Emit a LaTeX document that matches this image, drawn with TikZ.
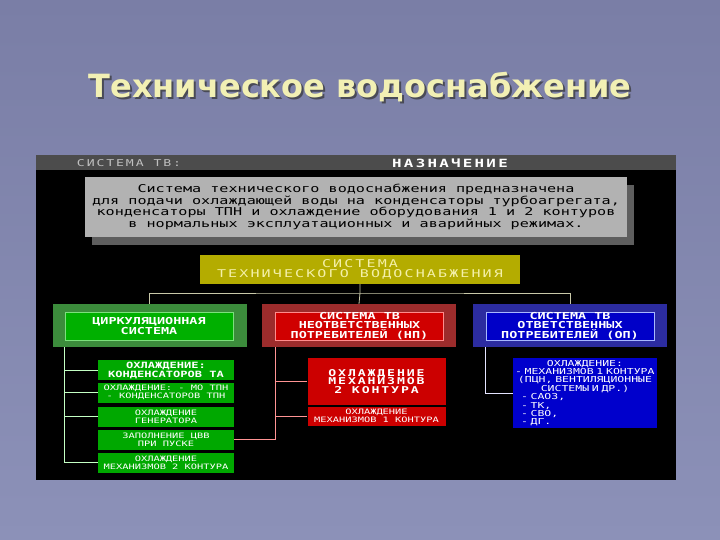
\documentclass[tikz,border=0pt]{standalone}
\usepackage{fontspec}
\newfontfamily\pix[FakeStretch=1.4]{DejaVu Sans Mono}
\newfontfamily\pixw[FakeStretch=1.4,LetterSpace=20]{DejaVu Sans Mono}
\newfontfamily\ttlfont{DejaVu Sans}
\usetikzlibrary{shadows}

\definecolor{bgtop}{HTML}{7A7EA6}
\definecolor{bgbot}{HTML}{8C91B8}
\definecolor{ttlcol}{HTML}{F2F0B4}
\definecolor{hdrfill}{HTML}{4C4C4C}
\definecolor{descfill}{HTML}{B2B2B2}
\definecolor{descshade}{HTML}{5E5E5E}
\definecolor{tvfill}{HTML}{B4AC00}
\definecolor{tvtext}{HTML}{F4F0A8}
\definecolor{treecol}{HTML}{C8C8A8}
\definecolor{gout}{HTML}{3C8C3C}
\definecolor{gin}{HTML}{00B000}
\definecolor{gedge}{HTML}{7CE07C}
\definecolor{gsubfill}{HTML}{00A800}
\definecolor{glinecol}{HTML}{C4FFC4}
\definecolor{rout}{HTML}{9C2C2C}
\definecolor{rin}{HTML}{D00000}
\definecolor{redge}{HTML}{FF8C8C}
\definecolor{rsubfill}{HTML}{CC0000}
\definecolor{rlinecol}{HTML}{FF9494}
\definecolor{bout}{HTML}{2C2CA0}
\definecolor{bin}{HTML}{0000C8}
\definecolor{bedge}{HTML}{A8B8FF}
\definecolor{bsubfill}{HTML}{0000CC}
\definecolor{blinecol}{HTML}{E4E4FF}

\tikzset{
  outerbox/.style={minimum width=194pt,minimum height=43pt,inner sep=0pt},
  innerbox/.style={draw,line width=0.8pt,minimum width=168pt,minimum height=28pt,inner sep=0pt,
    align=center,text=white,font={\pix\bfseries\fontsize{9.6}{8.5}\selectfont}},
  gsub/.style={fill=gsubfill,minimum width=136pt,minimum height=20pt,inner sep=0pt,
    align=center,text=white,font={\pix\fontsize{7.4}{8}\selectfont}},
  rsub/.style={fill=rsubfill,minimum width=138pt,inner sep=0pt,align=center,text=white},
  tree/.style={treecol,line width=0.8pt},
  gline/.style={glinecol,line width=0.8pt},
  rline/.style={rlinecol,line width=0.8pt},
  bline/.style={blinecol,line width=0.8pt}
}

\begin{document}
\begin{tikzpicture}[x=1pt,y=-1pt]
\useasboundingbox (0,0) rectangle (720,540);
\shade[top color=bgtop,bottom color=bgbot] (0,0) rectangle (720,540);

% title
\node[text=black!80,opacity=0.7,font={\ttlfont\bfseries\fontsize{32}{36}\selectfont}] (titleshadow) at (362,89) {Техническое водоснабжение};
\node[text=ttlcol,font={\ttlfont\bfseries\fontsize{32}{36}\selectfont}] (title) at (360,87) {Техническое водоснабжение};

% black panel and header
\fill[black] (36,155) rectangle (676,480);
\fill[hdrfill] (36,155) rectangle (676,170);
\node[text=black!25,font={\pixw\fontsize{9.4}{10}\selectfont}] (hsys) at (129,163) {СИСТЕМА ТВ:};
\node[text=white,font={\pixw\bfseries\fontsize{11.3}{12}\selectfont}] (hpurp) at (450,163) {НАЗНАЧЕНИЕ};

% purpose
\node[fill=descfill,minimum width=542pt,minimum height=60pt,inner sep=0pt,align=center,
  drop shadow={shadow xshift=7pt,shadow yshift=-8pt,fill=descshade,opacity=1},
  font={\pix\fontsize{10.8}{11.5}\selectfont}] (desc) at (356,207)
  {Система технического водоснабжения предназначена\\
   для подачи охлаждающей воды на конденсаторы турбоагрегата,\\
   конденсаторы ТПН и охлаждение оборудования 1 и 2 контуров\\
   в нормальных эксплуатационных и аварийных режимах.};

% top of the tree
\node[fill=tvfill,minimum width=320pt,minimum height=29pt,inner sep=0pt,align=center,text=tvtext,
  font={\pixw\fontsize{10.7}{10}\selectfont}] (tv) at (360,269.5)
  {СИСТЕМА\\ТЕХНИЧЕСКОГО ВОДОСНАБЖЕНИЯ};
\coordinate (hub) at (360,293);

\node[outerbox,fill=gout] (cs) at (149.5,325.5) {};
\node[innerbox,fill=gin,draw=gedge] (csin) at (149,326) {ЦИРКУЛЯЦИОННАЯ\\СИСТЕМА};
\node[outerbox,fill=rout] (np) at (359,325.5) {};
\node[innerbox,fill=rin,draw=redge] (npin) at (359.5,326) {СИСТЕМА ТВ\\НЕОТВЕТСТВЕННЫХ\\ПОТРЕБИТЕЛЕЙ (НП)};
\node[outerbox,fill=bout] (op) at (570,325.5) {};
\node[innerbox,fill=bin,draw=bedge] (opin) at (570,326) {СИСТЕМА ТВ\\ОТВЕТСТВЕННЫХ\\ПОТРЕБИТЕЛЕЙ (ОП)};

\draw[tree] (tv.south) -- (hub) -- (np.north);
\draw[tree] (cs.north) |- (hub) -| (op.north);

% circulation system
\node[gsub,font={\pix\bfseries\fontsize{8.6}{9}\selectfont}] (g1) at (166,370) {ОХЛАЖДЕНИЕ:\\КОНДЕНСАТОРОВ ТА};
\node[gsub] (g2) at (166,392.5) {ОХЛАЖДЕНИЕ: - МО ТПН\\- КОНДЕНСАТОРОВ ТПН};
\node[gsub] (g3) at (166,416.5) {ОХЛАЖДЕНИЕ\\ГЕНЕРАТОРА};
\node[gsub] (g4) at (166,439.5) {ЗАПОЛНЕНИЕ ЦВВ\\ПРИ ПУСКЕ};
\node[gsub] (g5) at (166,462.5) {ОХЛАЖДЕНИЕ\\МЕХАНИЗМОВ 2 КОНТУРА};

\draw[gline] (cs.south -| csin.west) |- (g5.west);
\foreach \g in {g1,g2,g3}
  \draw[gline] (csin.west |- \g.west) -- (\g.west);

% non-essential consumers
\node[rsub,minimum height=47pt,font={\pixw\bfseries\fontsize{9.4}{8.8}\selectfont}] (r1) at (376.5,381.5)
  {ОХЛАЖДЕНИЕ\\МЕХАНИЗМОВ\\2 КОНТУРА};
\node[rsub,minimum height=19pt,font={\pix\fontsize{7.4}{8}\selectfont}] (r2) at (376.5,416)
  {ОХЛАЖДЕНИЕ\\МЕХАНИЗМОВ 1 КОНТУРА};

\draw[rline] (np.south -| npin.west) |- (g4.east);
\draw[rline] (npin.west |- r1.west) -- (r1.west);
\draw[rline] (npin.west |- r2.west) -- (r2.west);

% essential consumers
\node[fill=bsubfill,minimum width=144pt,minimum height=70pt,inner sep=0pt,text=white,
  text width=140pt,align=left,font={\pix\fontsize{8.2}{8.4}\selectfont}] (b1) at (585,393)
  {\makebox[\linewidth]{ОХЛАЖДЕНИЕ:}\\
   - МЕХАНИЗМОВ 1 КОНТУРА\\
   \makebox[\linewidth]{(ПЦН, ВЕНТИЛЯЦИОННЫЕ}\\
   \makebox[\linewidth]{СИСТЕМЫ И ДР.)}\\
   \hspace*{6pt}- САОЗ,\\
   \hspace*{6pt}- ТК,\\
   \hspace*{6pt}- СВО,\\
   \hspace*{6pt}- ДГ.};

\draw[bline] (op.south -| opin.west) |- (b1.west);
\end{tikzpicture}
\end{document}
